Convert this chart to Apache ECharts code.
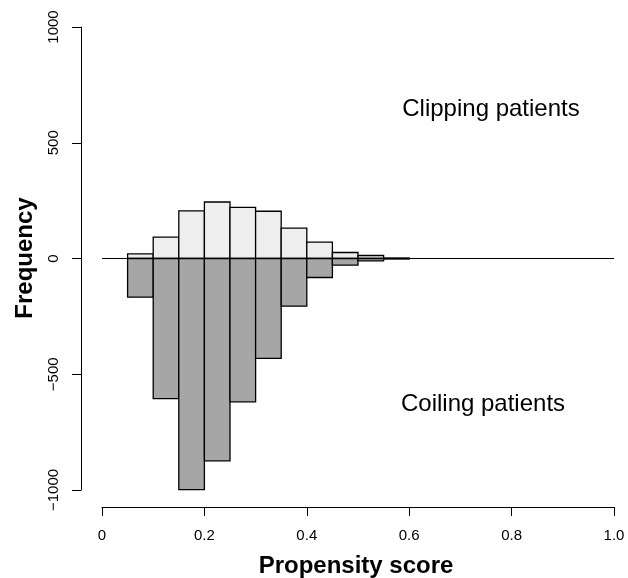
<!DOCTYPE html>
<html><head><meta charset="utf-8">
<script src="https://cdn.jsdelivr.net/npm/echarts@6/dist/echarts.min.js"></script>
<style>html,body{margin:0;padding:0;background:#fff}#c{width:628px;height:578px}</style>
</head><body><div id="c"></div>
<script>
// Histogram bins (start of each 0.05-wide bin)
const binStarts = [0,0.05,0.1,0.15,0.2,0.25,0.3,0.35,0.4,0.45,0.5,0.55,0.6,0.65,0.7,0.75,0.8,0.85,0.9,0.95];
const binWidth = 0.05;
// Frequencies
const clipping = [0,20,92,206,244,221,204,131,71,26,13,2,0,0,0,0,0,0,0,0];
const coiling  = [0,167,605,998,874,619,431,206,82,29,10,2,0,0,0,0,0,0,0,0];
const xTickLabels = ['0','0.2','0.4','0.6','0.8','1.0'];
const yTickLabels = {'-1000':'\u22121000','-500':'\u2212500','0':'0','500':'500','1000':'1000'};

const FONT = '"Liberation Sans", Arial, Helvetica, sans-serif';

function histData(vals, sign){
  return binStarts.map((b,i)=>[b, b+binWidth, sign*vals[i]]);
}
function makeRender(fill){
  return function(params, api){
    const x0 = api.value(0), x1 = api.value(1), v = api.value(2);
    if (!v) return null;
    const p0 = api.coord([x0, 0]);
    const p1 = api.coord([x1, v]);
    return {
      type:'rect',
      shape:{x:p0[0], y:Math.min(p0[1],p1[1]), width:p1[0]-p0[0], height:Math.abs(p1[1]-p0[1])},
      style:{fill:fill, stroke:'#000', lineWidth:1.3}
    };
  };
}

const chart = echarts.init(document.getElementById('c'), null, {renderer:'canvas'});
chart.setOption({
  backgroundColor:'#fff',
  animation:false,
  grid:{left:102, right:14, top:27, bottom:88, containLabel:false},
  xAxis:{
    type:'value', min:0, max:1, interval:0.2, offset:17,
    axisLine:{show:true, onZero:false, lineStyle:{color:'#000', width:1}},
    axisTick:{show:true, length:9, lineStyle:{color:'#000', width:1}},
    splitLine:{show:false},
    axisLabel:{color:'#000', fontSize:15, fontFamily:FONT, margin:21,
      formatter:function(v){ return xTickLabels[Math.round(v/0.2)]; }}
  },
  yAxis:{
    type:'value', min:-1000, max:1000, interval:500, offset:21,
    axisLine:{show:true, onZero:false, lineStyle:{color:'#000', width:1}},
    axisTick:{show:true, length:9, lineStyle:{color:'#000', width:1}},
    splitLine:{show:false},
    axisLabel:{color:'#000', fontSize:15, fontFamily:FONT, margin:20, rotate:90,
      formatter:function(v){ return yTickLabels[String(v)]; }}
  },
  series:[
    {type:'custom', renderItem:makeRender('#eeeeee'), data:histData(clipping,1), encode:{x:[0,1], y:2}, z:2},
    {type:'custom', renderItem:makeRender('#a6a6a6'), data:histData(coiling,-1), encode:{x:[0,1], y:2}, z:3},
    {type:'line', data:[[0,0],[1,0]], symbol:'none', lineStyle:{color:'#000', width:1}, z:4, silent:true}
  ],
  graphic:[
    {type:'text', style:{text:'Clipping patients', x:491, y:109, textAlign:'center', textVerticalAlign:'middle', font:'24px '+FONT, fill:'#000'}},
    {type:'text', style:{text:'Coiling patients', x:483, y:404, textAlign:'center', textVerticalAlign:'middle', font:'24px '+FONT, fill:'#000'}},
    {type:'text', style:{text:'Propensity score', x:356, y:566, textAlign:'center', textVerticalAlign:'middle', font:'bold 24px '+FONT, fill:'#000'}},
    {type:'text', x:25, y:258, rotation:Math.PI/2, style:{text:'Frequency', x:0, y:0, textAlign:'center', textVerticalAlign:'middle', font:'bold 24px '+FONT, fill:'#000'}}
  ]
});
</script>
</body></html>
